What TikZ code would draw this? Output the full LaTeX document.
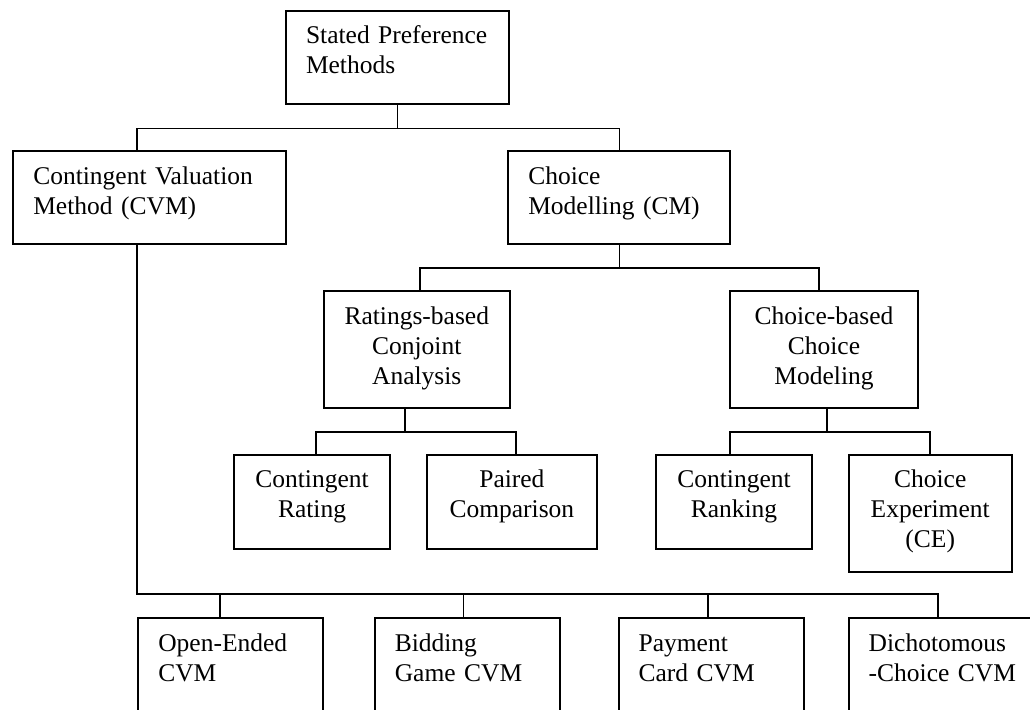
\documentclass[tikz,border=0pt]{standalone}
\usepackage{fontspec}
\setmainfont{Liberation Serif}

\begin{document}
\begin{tikzpicture}[x=1pt,y=-1pt,
    box/.style={draw,line width=2pt,anchor=north west,inner ysep=0pt,
      text height=33pt,font=\fontsize{25.5}{30}\selectfont},
    lbox/.style={box,inner xsep=20pt,align=left},
    cbox/.style={box,inner xsep=4pt,align=center},
    link/.style={line width=1.5pt}]
  \useasboundingbox (0,0) rectangle (1030,709);
  \clip (0,0) rectangle (1030,709);

  \node[lbox,text width=182.7pt,text depth=59.7pt] (sp) at (285,10) {Stated~Preference\\Methods};

  \node[lbox,text width=232.7pt,text depth=59.7pt] (cvm) at (12.3,150) {Contingent~Valuation\\Method~(CVM)};
  \node[lbox,text width=182pt,text depth=59.7pt] (cm) at (507.3,150) {Choice\\Modelling~(CM)};

  \node[cbox,text width=178.5pt,text depth=84pt] (rb) at (322.5,290) {Ratings-based\\Conjoint\\Analysis};
  \node[cbox,text width=179.4pt,text depth=84pt] (cb) at (729.3,290) {Choice-based\\Choice\\Modeling};

  \node[cbox,text width=148pt,text depth=61pt] (cr) at (233,453.5) {Contingent\\Rating};
  \node[cbox,text width=162.2pt,text depth=61pt] (pc) at (425.8,453.5) {Paired\\Comparison};
  \node[cbox,text width=148pt,text depth=61pt] (crk) at (655,453.5) {Contingent\\Ranking};
  \node[cbox,text width=155pt,text depth=84pt] (ce) at (847.7,453.5) {Choice\\Experiment\\(CE)};

  \node[lbox,text width=145pt,text depth=90pt] (oe) at (137.3,617.3) {Open-Ended\\CVM};
  \node[lbox,text width=145.2pt,text depth=90pt] (bg) at (373.8,617.3) {Bidding\\Game~CVM};
  \node[lbox,text width=145.1pt,text depth=90pt] (pcv) at (617.6,617.3) {Payment\\Card~CVM};
  \node[lbox,text width=145pt,text depth=90pt] (dc) at (847.7,617.3) {Dichotomous\\\mbox{-Choice~CVM}};

  \coordinate (cvmx) at (137,0);
  \coordinate (cbus) at (0,594);

  \draw[link] (sp.south) -- ++(0,24) -| (cm.north);
  \draw[link] (sp.south) ++(0,24) -| (cvmx |- cvm.north);

  \draw[link] (cm.south) -- ++(0,23.4) -| ([xshift=3pt]rb.north);
  \draw[link] (cm.south) ++(0,23.4) -| ([xshift=-5pt]cb.north);

  \draw[link] ([xshift=-12pt]rb.south) -- ++(0,23) -| ([xshift=4pt]cr.north);
  \draw[link] ([xshift=-12pt]rb.south) ++(0,23) -| ([xshift=4pt]pc.north);
  \draw[link] ([xshift=3pt]cb.south) -- ++(0,23) -| ([xshift=-4pt]crk.north);
  \draw[link] ([xshift=3pt]cb.south) ++(0,23) -| (ce.north);

  \draw[link] (cvmx |- cvm.south) -- (cvmx |- cbus) -| ([xshift=-3pt]dc.north);
  \draw[link] ([xshift=-11pt]oe.north) -- ++(0,-23.3);
  \draw[link] ([xshift=-4pt]bg.north) -- ++(0,-23.3);
  \draw[link] ([xshift=-3pt]pcv.north) -- ++(0,-23.3);
\end{tikzpicture}
\end{document}
